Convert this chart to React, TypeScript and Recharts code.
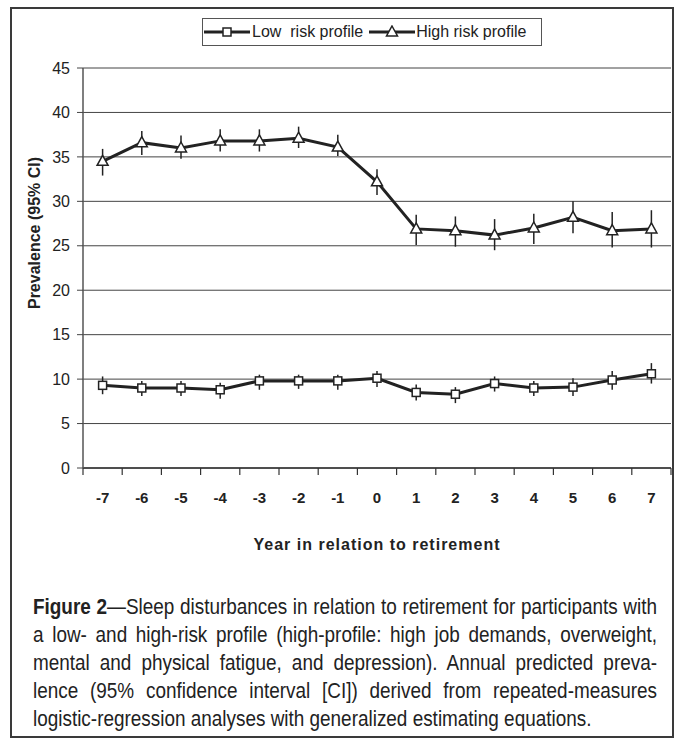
import React from "react";
import { LineChart, Line, XAxis, YAxis, CartesianGrid, ErrorBar } from "recharts";

// Year relative to retirement
const years = [-7, -6, -5, -4, -3, -2, -1, 0, 1, 2, 3, 4, 5, 6, 7];

// Low risk profile: prevalence and 95% CI
const lowRisk = [9.3, 9.0, 9.0, 8.8, 9.8, 9.8, 9.8, 10.1, 8.5, 8.3, 9.5, 9.0, 9.1, 9.9, 10.6];
const lowRiskLower = [8.3, 8.1, 8.1, 7.8, 8.8, 8.9, 8.8, 9.1, 7.6, 7.3, 8.6, 8.1, 8.1, 8.8, 9.5];
const lowRiskUpper = [10.3, 9.8, 9.8, 9.6, 10.5, 10.5, 10.5, 10.9, 9.4, 9.1, 10.3, 9.8, 10.1, 10.9, 11.8];

// High risk profile: prevalence and 95% CI
const highRisk = [34.5, 36.6, 36.0, 36.8, 36.8, 37.1, 36.1, 32.2, 26.9, 26.7, 26.2, 27.0, 28.2, 26.7, 26.9];
const highRiskLower = [32.9, 35.2, 34.8, 35.6, 35.6, 36.0, 35.1, 30.7, 25.1, 24.9, 24.5, 25.2, 26.4, 24.8, 24.8];
const highRiskUpper = [35.9, 37.9, 37.4, 38.1, 38.1, 38.4, 37.5, 33.6, 28.5, 28.3, 28.0, 28.6, 30.0, 28.8, 29.0];

const yTicks = [0, 5, 10, 15, 20, 25, 30, 35, 40, 45];

const captionLines = [
  "Sleep disturbances in relation to retirement for participants with",
  "a low- and high-risk profile (high-profile: high job demands, overweight,",
  "mental and physical fatigue, and depression). Annual predicted preva-",
  "lence (95% confidence interval [CI]) derived from repeated-measures",
  "logistic-regression analyses with generalized estimating equations.",
];

const data = years.map((year, i) => ({
  year,
  low: lowRisk[i],
  lowErr: [lowRisk[i] - lowRiskLower[i], lowRiskUpper[i] - lowRisk[i]],
  high: highRisk[i],
  highErr: [highRisk[i] - highRiskLower[i], highRiskUpper[i] - highRisk[i]],
}));

// tick marks sit between the years, labels on the years
const xTicks = [...years.map((y) => y - 0.5), years[years.length - 1] + 0.5, ...years].sort((a, b) => a - b);

const INK = "#222";
const SANS = "'Liberation Sans', Arial, sans-serif";
const SQUEEZE = 0.86; // caption is set in a condensed face in the original

const SquareDot = (props: any) => {
  const { cx, cy, index } = props;
  if (cx == null || cy == null) return null;
  return <rect key={`sq-${index}`} x={cx - 4} y={cy - 4} width={8} height={8} fill="#fff" stroke={INK} strokeWidth={1.5} />;
};

const TriangleDot = (props: any) => {
  const { cx, cy, index } = props;
  if (cx == null || cy == null) return null;
  return (
    <polygon
      key={`tr-${index}`}
      points={`${cx},${cy - 6} ${cx + 5.5},${cy + 4} ${cx - 5.5},${cy + 4}`}
      fill="#fff"
      stroke={INK}
      strokeWidth={1.5}
    />
  );
};

const XTick = (props: any) => {
  const { x, y, payload } = props;
  const v = payload.value;
  if (!Number.isInteger(v)) {
    return <line x1={x} x2={x} y1={y} y2={y + 7} stroke="#333" strokeWidth={1.2} />;
  }
  return (
    <text x={x} y={y + 35} textAnchor="middle" fontFamily={SANS} fontSize={15} fontWeight="bold" fill={INK}>
      {String(v)}
    </text>
  );
};

const LegendIcon = ({ kind }: { kind: "square" | "triangle" }) => (
  <svg width={46} height={14} style={{ display: "block" }}>
    <line x1={0} x2={46} y1={7} y2={7} stroke={INK} strokeWidth={3} />
    {kind === "square" ? (
      <rect x={19} y={3} width={8} height={8} fill="#fff" stroke={INK} strokeWidth={1.5} />
    ) : (
      <polygon points="23,1 28.5,11 17.5,11" fill="#fff" stroke={INK} strokeWidth={1.5} />
    )}
  </svg>
);

export default function App() {
  return (
    <div style={{ position: "absolute", left: 0, top: 0, width: 686, height: 741, background: "#fff" }}>
      <div
        style={{
          position: "absolute",
          left: 10,
          top: 7,
          width: 664,
          height: 731,
          border: "2px solid #3a3a3a",
          boxSizing: "border-box",
        }}
      />

      <div style={{ position: "absolute", left: 0, top: 0 }}>
        <LineChart width={686} height={520} data={data} margin={{ top: 68, right: 15, left: 35, bottom: 12 }}>
          <CartesianGrid vertical={false} stroke="#444" strokeWidth={1} />
          <XAxis
            type="number"
            dataKey="year"
            domain={[-7.5, 7.5]}
            ticks={xTicks}
            interval={0}
            tickSize={0}
            tickMargin={0}
            tickLine={false}
            tick={<XTick />}
            axisLine={{ stroke: "#333", strokeWidth: 1.5 }}
            height={40}
          />
          <YAxis
            type="number"
            domain={[0, 45]}
            ticks={yTicks}
            interval={0}
            width={48}
            tickSize={6}
            tickMargin={7}
            tickLine={{ stroke: "#444" }}
            axisLine={{ stroke: "#555", strokeWidth: 1.5 }}
            tick={{ fontFamily: SANS, fontSize: 16, fill: INK }}
          />
          <Line
            dataKey="low"
            stroke={INK}
            strokeWidth={3}
            dot={SquareDot}
            activeDot={false}
            isAnimationActive={false}
          >
            <ErrorBar dataKey="lowErr" direction="y" width={0} stroke={INK} strokeWidth={1.5} />
          </Line>
          <Line
            dataKey="high"
            stroke={INK}
            strokeWidth={3}
            dot={TriangleDot}
            activeDot={false}
            isAnimationActive={false}
          >
            <ErrorBar dataKey="highErr" direction="y" width={0} stroke={INK} strokeWidth={1.5} />
          </Line>
        </LineChart>
      </div>

      {/* legend */}
      <div
        style={{
          position: "absolute",
          left: 202,
          top: 18,
          width: 340,
          height: 28,
          border: "1px solid #555",
          boxSizing: "border-box",
          display: "flex",
          alignItems: "center",
          paddingLeft: 1,
          fontFamily: SANS,
          fontSize: 16,
          color: INK,
          whiteSpace: "pre",
        }}
      >
        <LegendIcon kind="square" />
        <span style={{ marginLeft: 2 }}>Low  risk profile</span>
        <span style={{ marginLeft: 6 }}>
          <LegendIcon kind="triangle" />
        </span>
        <span style={{ marginLeft: 1 }}>High risk profile</span>
      </div>

      {/* y axis title */}
      <div
        style={{
          position: "absolute",
          left: 35,
          top: 233,
          transform: "translate(-50%, -50%) rotate(-90deg)",
          fontFamily: SANS,
          fontWeight: "bold",
          fontSize: 16,
          color: INK,
          whiteSpace: "nowrap",
        }}
      >
        Prevalence (95% CI)
      </div>

      {/* x axis title */}
      <div
        style={{
          position: "absolute",
          left: 377,
          top: 545,
          transform: "translate(-50%, -50%)",
          fontFamily: SANS,
          fontWeight: "bold",
          fontSize: 16,
          letterSpacing: 1,
          color: INK,
          whiteSpace: "nowrap",
        }}
      >
        Year in relation to retirement
      </div>

      {/* caption */}
      <div
        style={{
          position: "absolute",
          left: 33,
          top: 593,
          width: 624 / SQUEEZE,
          transform: `scaleX(${SQUEEZE})`,
          transformOrigin: "left top",
          fontFamily: SANS,
          fontSize: 22,
          lineHeight: "28px",
          color: INK,
        }}
      >
        {captionLines.map((line, i) => (
          <div
            key={i}
            style={{
              textAlign: i < captionLines.length - 1 ? "justify" : "left",
              textAlignLast: i < captionLines.length - 1 ? "justify" : "left",
              whiteSpace: "nowrap",
            }}
          >
            {i === 0 && <b>Figure 2</b>}
            {i === 0 ? "\u2014" : ""}
            {line}
          </div>
        ))}
      </div>
    </div>
  );
}
